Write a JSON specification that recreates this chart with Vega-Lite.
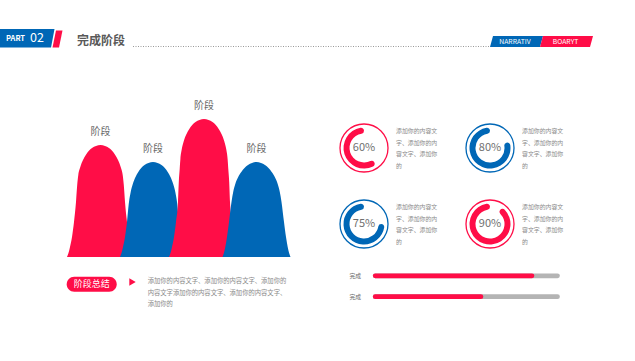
{
  "$schema": "https://vega.github.io/schema/vega-lite/v6.json",
  "width": 635,
  "height": 361,
  "padding": 0,
  "autosize": {"type": "fit", "contains": "padding"},
  "background": "#ffffff",
  "config": {"view": {"stroke": null}, "text": {"font": "Noto Sans CJK SC"}},
  "datasets": {
    "humps": [
      {"stage": "1", "pos": 67.0, "height": 0}, {"stage": "1", "pos": 68.5, "height": 4}, {"stage": "1", "pos": 70.0, "height": 10}, {"stage": "1", "pos": 72.0, "height": 20}, {"stage": "1", "pos": 74.0, "height": 35}, {"stage": "1", "pos": 76.0, "height": 55}, {"stage": "1", "pos": 77.2, "height": 72}, {"stage": "1", "pos": 78.3, "height": 82}, {"stage": "1", "pos": 80.3, "height": 90}, {"stage": "1", "pos": 83.0, "height": 97}, {"stage": "1", "pos": 85.8, "height": 102}, {"stage": "1", "pos": 88.7, "height": 106}, {"stage": "1", "pos": 92.0, "height": 109}, {"stage": "1", "pos": 96.0, "height": 111}, {"stage": "1", "pos": 100.5, "height": 112}, {"stage": "1", "pos": 105.0, "height": 111}, {"stage": "1", "pos": 109.0, "height": 109}, {"stage": "1", "pos": 112.3, "height": 106}, {"stage": "1", "pos": 115.2, "height": 102}, {"stage": "1", "pos": 118.0, "height": 97}, {"stage": "1", "pos": 120.7, "height": 90}, {"stage": "1", "pos": 122.7, "height": 82}, {"stage": "1", "pos": 123.8, "height": 72}, {"stage": "1", "pos": 125.0, "height": 55}, {"stage": "1", "pos": 127.0, "height": 35}, {"stage": "1", "pos": 129.0, "height": 20}, {"stage": "1", "pos": 131.0, "height": 10}, {"stage": "1", "pos": 132.5, "height": 4}, {"stage": "1", "pos": 134.0, "height": 0},
      {"stage": "2", "pos": 120.0, "height": 0}, {"stage": "2", "pos": 121.5, "height": 4}, {"stage": "2", "pos": 123.0, "height": 10}, {"stage": "2", "pos": 125.0, "height": 20}, {"stage": "2", "pos": 127.0, "height": 35}, {"stage": "2", "pos": 129.0, "height": 55}, {"stage": "2", "pos": 130.7, "height": 65}, {"stage": "2", "pos": 132.8, "height": 73}, {"stage": "2", "pos": 135.5, "height": 80}, {"stage": "2", "pos": 138.3, "height": 85}, {"stage": "2", "pos": 141.2, "height": 89}, {"stage": "2", "pos": 144.5, "height": 92}, {"stage": "2", "pos": 148.5, "height": 94}, {"stage": "2", "pos": 153.0, "height": 95}, {"stage": "2", "pos": 157.5, "height": 94}, {"stage": "2", "pos": 161.5, "height": 92}, {"stage": "2", "pos": 164.8, "height": 89}, {"stage": "2", "pos": 167.7, "height": 85}, {"stage": "2", "pos": 170.5, "height": 80}, {"stage": "2", "pos": 173.2, "height": 73}, {"stage": "2", "pos": 175.3, "height": 65}, {"stage": "2", "pos": 177.0, "height": 55}, {"stage": "2", "pos": 179.0, "height": 35}, {"stage": "2", "pos": 181.0, "height": 20}, {"stage": "2", "pos": 183.0, "height": 10}, {"stage": "2", "pos": 184.5, "height": 4}, {"stage": "2", "pos": 186.0, "height": 0},
      {"stage": "3", "pos": 169.0, "height": 0}, {"stage": "3", "pos": 170.5, "height": 4}, {"stage": "3", "pos": 172.0, "height": 10}, {"stage": "3", "pos": 174.0, "height": 20}, {"stage": "3", "pos": 176.0, "height": 35}, {"stage": "3", "pos": 178.0, "height": 55}, {"stage": "3", "pos": 178.8, "height": 75}, {"stage": "3", "pos": 179.7, "height": 88}, {"stage": "3", "pos": 180.4, "height": 98}, {"stage": "3", "pos": 181.8, "height": 108}, {"stage": "3", "pos": 183.8, "height": 116}, {"stage": "3", "pos": 186.5, "height": 123}, {"stage": "3", "pos": 189.3, "height": 128}, {"stage": "3", "pos": 192.2, "height": 132}, {"stage": "3", "pos": 195.5, "height": 135}, {"stage": "3", "pos": 199.5, "height": 137}, {"stage": "3", "pos": 204.0, "height": 138}, {"stage": "3", "pos": 208.5, "height": 137}, {"stage": "3", "pos": 212.5, "height": 135}, {"stage": "3", "pos": 215.8, "height": 132}, {"stage": "3", "pos": 218.7, "height": 128}, {"stage": "3", "pos": 221.5, "height": 123}, {"stage": "3", "pos": 224.2, "height": 116}, {"stage": "3", "pos": 226.2, "height": 108}, {"stage": "3", "pos": 227.6, "height": 98}, {"stage": "3", "pos": 228.3, "height": 88}, {"stage": "3", "pos": 229.2, "height": 75}, {"stage": "3", "pos": 230.0, "height": 55}, {"stage": "3", "pos": 232.0, "height": 35}, {"stage": "3", "pos": 234.0, "height": 20}, {"stage": "3", "pos": 236.0, "height": 10}, {"stage": "3", "pos": 237.5, "height": 4}, {"stage": "3", "pos": 239.0, "height": 0},
      {"stage": "4", "pos": 222.5, "height": 0}, {"stage": "4", "pos": 223.9, "height": 4}, {"stage": "4", "pos": 225.3, "height": 10}, {"stage": "4", "pos": 227.0, "height": 20}, {"stage": "4", "pos": 229.0, "height": 35}, {"stage": "4", "pos": 231.5, "height": 55}, {"stage": "4", "pos": 233.2, "height": 65}, {"stage": "4", "pos": 235.3, "height": 73}, {"stage": "4", "pos": 238.2, "height": 80}, {"stage": "4", "pos": 241.3, "height": 85}, {"stage": "4", "pos": 244.5, "height": 89}, {"stage": "4", "pos": 248.0, "height": 92}, {"stage": "4", "pos": 252.0, "height": 94}, {"stage": "4", "pos": 256.5, "height": 95}, {"stage": "4", "pos": 261.0, "height": 94}, {"stage": "4", "pos": 265.0, "height": 92}, {"stage": "4", "pos": 268.5, "height": 89}, {"stage": "4", "pos": 271.7, "height": 85}, {"stage": "4", "pos": 274.8, "height": 80}, {"stage": "4", "pos": 277.7, "height": 73}, {"stage": "4", "pos": 279.8, "height": 65}, {"stage": "4", "pos": 281.5, "height": 55}, {"stage": "4", "pos": 284.0, "height": 35}, {"stage": "4", "pos": 286.0, "height": 20}, {"stage": "4", "pos": 287.7, "height": 10}, {"stage": "4", "pos": 289.1, "height": 4}, {"stage": "4", "pos": 290.5, "height": 0}
    ],
    "stages": [
      {"stage": "1", "name": "阶段", "center": 100.5, "value": 112},
      {"stage": "2", "name": "阶段", "center": 153, "value": 95},
      {"stage": "3", "name": "阶段", "center": 204, "value": 138},
      {"stage": "4", "name": "阶段", "center": 256.5, "value": 95}
    ],
    "donuts": [
      {"col": 1, "row": 1, "start": 0, "pct": 60, "label": "60%", "desc": "添加你的内容文\n字、添加你的内\n容文字、添加你\n的"},
      {"col": 2, "row": 1, "start": 0, "pct": 80, "label": "80%", "desc": "添加你的内容文\n字、添加你的内\n容文字、添加你\n的"},
      {"col": 1, "row": 2, "start": 0, "pct": 75, "label": "75%", "desc": "添加你的内容文\n字、添加你的内\n容文字、添加你\n的"},
      {"col": 2, "row": 2, "start": 0, "pct": 90, "label": "90%", "desc": "添加你的内容文\n字、添加你的内\n容文字、添加你\n的"}
    ],
    "bars": [
      {"item": 1, "name": "完成", "start": 0, "full": 100, "pct": 86},
      {"item": 2, "name": "完成", "start": 0, "full": 100, "pct": 58}
    ]
  },
  "resolve": {"scale": {"x": "independent", "y": "independent", "color": "independent", "theta": "independent"}},
  "layer": [
    {
      "data": {"values": [
        {"tag": "PART", "y": 29, "left": 0, "right": 54.5},
        {"tag": "PART", "y": 47.5, "left": 0, "right": 51},
        {"tag": "slash", "y": 30.5, "left": 56, "right": 62.5},
        {"tag": "slash", "y": 47.5, "left": 52.5, "right": 59},
        {"tag": "NARRATIV", "y": 36, "left": 493, "right": 543},
        {"tag": "NARRATIV", "y": 47, "left": 490, "right": 540},
        {"tag": "BOARYT", "y": 36, "left": 543, "right": 593},
        {"tag": "BOARYT", "y": 47, "left": 540, "right": 590}
      ]},
      "mark": {"type": "area", "orient": "horizontal", "interpolate": "linear", "opacity": 1},
      "encoding": {
        "y": {"field": "y", "type": "quantitative", "scale": {"domain": [0, 361], "reverse": true, "nice": false, "zero": false}, "axis": null},
        "x": {"field": "left", "type": "quantitative", "stack": null, "scale": {"domain": [0, 635], "nice": false, "zero": false}, "axis": null},
        "x2": {"field": "right"},
        "color": {"field": "tag", "type": "nominal", "scale": {"domain": ["PART", "slash", "NARRATIV", "BOARYT"], "range": ["#0067B6", "#FF0D47", "#0067B6", "#FF0D47"]}, "legend": null}
      }
    },
    {
      "data": {"values": [{"from": 133, "to": 489, "y": 46.5}]},
      "mark": {"type": "rule", "color": "#9a9a9a", "strokeWidth": 1, "strokeDash": [1, 1.5]},
      "encoding": {
        "x": {"field": "from", "type": "quantitative", "scale": {"domain": [0, 635], "nice": false, "zero": false}, "axis": null},
        "x2": {"field": "to"},
        "y": {"field": "y", "type": "quantitative", "scale": {"domain": [0, 361], "reverse": true, "nice": false, "zero": false}, "axis": null}
      }
    },
    {
      "data": {"values": [{"x": 66.7, "x2": 116.7, "y": 276.7, "y2": 291.7}]},
      "mark": {"type": "rect", "color": "#FF0D47", "cornerRadius": 7.5},
      "encoding": {
        "x": {"field": "x", "type": "quantitative", "scale": {"domain": [0, 635], "nice": false, "zero": false}, "axis": null},
        "x2": {"field": "x2"},
        "y": {"field": "y", "type": "quantitative", "scale": {"domain": [0, 361], "reverse": true, "nice": false, "zero": false}, "axis": null},
        "y2": {"field": "y2"}
      }
    },
    {
      "data": {"values": [{"x": 132.5, "y": 282}]},
      "mark": {"type": "point", "shape": "triangle-right", "filled": true, "size": 55, "color": "#FF0D47", "opacity": 1},
      "encoding": {
        "x": {"field": "x", "type": "quantitative", "scale": {"domain": [0, 635], "nice": false, "zero": false}, "axis": null},
        "y": {"field": "y", "type": "quantitative", "scale": {"domain": [0, 361], "reverse": true, "nice": false, "zero": false}, "axis": null}
      }
    },
    {
      "data": {"values": [{"text": "PART", "x": 6, "y": 39.2}]},
      "mark": {"type": "text", "align": "left", "baseline": "middle", "fontSize": 7.5, "fontWeight": "bold", "color": "#ffffff"},
      "encoding": {
        "x": {"field": "x", "type": "quantitative", "scale": {"domain": [0, 635], "nice": false, "zero": false}, "axis": null},
        "y": {"field": "y", "type": "quantitative", "scale": {"domain": [0, 361], "reverse": true, "nice": false, "zero": false}, "axis": null},
        "text": {"field": "text"}
      }
    },
    {
      "data": {"values": [{"text": "02", "x": 30, "y": 38.3}]},
      "mark": {"type": "text", "align": "left", "baseline": "middle", "fontSize": 12.5, "color": "#ffffff"},
      "encoding": {
        "x": {"field": "x", "type": "quantitative", "scale": {"domain": [0, 635], "nice": false, "zero": false}, "axis": null},
        "y": {"field": "y", "type": "quantitative", "scale": {"domain": [0, 361], "reverse": true, "nice": false, "zero": false}, "axis": null},
        "text": {"field": "text"}
      }
    },
    {
      "data": {"values": [{"text": "NARRATIV", "x": 515, "y": 41.6}, {"text": "BOARYT", "x": 565.5, "y": 41.6}]},
      "mark": {"type": "text", "align": "center", "baseline": "middle", "fontSize": 6.8, "color": "#ffffff"},
      "encoding": {
        "x": {"field": "x", "type": "quantitative", "scale": {"domain": [0, 635], "nice": false, "zero": false}, "axis": null},
        "y": {"field": "y", "type": "quantitative", "scale": {"domain": [0, 361], "reverse": true, "nice": false, "zero": false}, "axis": null},
        "text": {"field": "text"}
      }
    },
    {
      "data": {"values": [{"text": "完成阶段", "x": 77, "y": 40.7}]},
      "mark": {"type": "text", "align": "left", "baseline": "middle", "fontSize": 12, "fontWeight": "bold", "color": "#595959"},
      "encoding": {
        "x": {"field": "x", "type": "quantitative", "scale": {"domain": [0, 635], "nice": false, "zero": false}, "axis": null},
        "y": {"field": "y", "type": "quantitative", "scale": {"domain": [0, 361], "reverse": true, "nice": false, "zero": false}, "axis": null},
        "text": {"field": "text"}
      }
    },
    {
      "data": {"values": [{"text": "阶段总结", "x": 91.7, "y": 284.2}]},
      "mark": {"type": "text", "align": "center", "baseline": "middle", "fontSize": 9, "color": "#ffffff"},
      "encoding": {
        "x": {"field": "x", "type": "quantitative", "scale": {"domain": [0, 635], "nice": false, "zero": false}, "axis": null},
        "y": {"field": "y", "type": "quantitative", "scale": {"domain": [0, 361], "reverse": true, "nice": false, "zero": false}, "axis": null},
        "text": {"field": "text"}
      }
    },
    {
      "data": {"values": [
        {"text": "添加你的内容文字、添加你的内容文字、添加你的", "x": 147.7, "y": 281},
        {"text": "内容文字添加你的内容文字、添加你的内容文字、", "x": 147.7, "y": 292.6},
        {"text": "添加你的", "x": 147.7, "y": 304.2}
      ]},
      "mark": {"type": "text", "align": "left", "baseline": "middle", "fontSize": 6.3, "color": "#8a8a8a"},
      "encoding": {
        "x": {"field": "x", "type": "quantitative", "scale": {"domain": [0, 635], "nice": false, "zero": false}, "axis": null},
        "y": {"field": "y", "type": "quantitative", "scale": {"domain": [0, 361], "reverse": true, "nice": false, "zero": false}, "axis": null},
        "text": {"field": "text"}
      }
    },
    {
      "data": {"name": "humps"},
      "mark": {"type": "area", "interpolate": "monotone", "opacity": 1},
      "encoding": {
        "x": {"field": "pos", "type": "quantitative", "scale": {"domain": [0, 635], "nice": false, "zero": false}, "axis": null},
        "y": {"field": "height", "type": "quantitative", "stack": null, "scale": {"domain": [-104, 257], "nice": false, "zero": false}, "axis": null},
        "color": {"field": "stage", "type": "nominal", "scale": {"domain": ["1", "2", "3", "4"], "range": ["#FF0D47", "#0067B6", "#FF0D47", "#0067B6"]}, "legend": null}
      }
    },
    {
      "data": {"name": "stages"},
      "mark": {"type": "text", "baseline": "middle", "dy": -13, "fontSize": 10, "color": "#6b6b6b"},
      "encoding": {
        "x": {"field": "center", "type": "quantitative", "scale": {"domain": [0, 635], "nice": false, "zero": false}, "axis": null},
        "y": {"field": "value", "type": "quantitative", "scale": {"domain": [-104, 257], "nice": false, "zero": false}, "axis": null},
        "text": {"field": "name"}
      }
    },
    {
      "data": {"name": "donuts"},
      "mark": {"type": "point", "shape": "circle", "filled": false, "size": 2304, "strokeWidth": 1.3, "opacity": 1},
      "encoding": {
        "x": {"field": "col", "type": "quantitative", "scale": {"domain": [-1.8889, 3.1508], "nice": false, "zero": false}, "axis": null},
        "y": {"field": "row", "type": "quantitative", "scale": {"domain": [-0.9474, 3.8026], "reverse": true, "nice": false, "zero": false}, "axis": null},
        "color": {"field": "label", "type": "nominal", "scale": {"domain": ["60%", "80%", "75%", "90%"], "range": ["#FF0D47", "#0067B6", "#0067B6", "#FF0D47"]}, "legend": null}
      }
    },
    {
      "data": {"name": "donuts"},
      "mark": {"type": "arc", "outerRadius": 20.5, "innerRadius": 14.5, "cornerRadius": 3},
      "encoding": {
        "x": {"field": "col", "type": "quantitative", "scale": {"domain": [-1.8889, 3.1508], "nice": false, "zero": false}, "axis": null},
        "y": {"field": "row", "type": "quantitative", "scale": {"domain": [-0.9474, 3.8026], "reverse": true, "nice": false, "zero": false}, "axis": null},
        "theta": {"field": "pct", "type": "quantitative", "stack": null, "scale": {"domain": [0, 100], "range": [6.2832, 0], "nice": false, "zero": false}},
        "theta2": {"field": "start"},
        "color": {"field": "label", "type": "nominal", "scale": {"domain": ["60%", "80%", "75%", "90%"], "range": ["#FF0D47", "#0067B6", "#0067B6", "#FF0D47"]}, "legend": null}
      }
    },
    {
      "data": {"name": "donuts"},
      "mark": {"type": "text", "align": "center", "baseline": "middle", "fontSize": 11, "color": "#707070"},
      "encoding": {
        "x": {"field": "col", "type": "quantitative", "scale": {"domain": [-1.8889, 3.1508], "nice": false, "zero": false}, "axis": null},
        "y": {"field": "row", "type": "quantitative", "scale": {"domain": [-0.9474, 3.8026], "reverse": true, "nice": false, "zero": false}, "axis": null},
        "text": {"field": "label"}
      }
    },
    {
      "data": {"name": "donuts"},
      "mark": {"type": "text", "align": "left", "baseline": "top", "dx": 32, "dy": -20, "fontSize": 5.9, "lineHeight": 11.7, "lineBreak": "\n", "color": "#8a8a8a"},
      "encoding": {
        "x": {"field": "col", "type": "quantitative", "scale": {"domain": [-1.8889, 3.1508], "nice": false, "zero": false}, "axis": null},
        "y": {"field": "row", "type": "quantitative", "scale": {"domain": [-0.9474, 3.8026], "reverse": true, "nice": false, "zero": false}, "axis": null},
        "text": {"field": "desc"}
      }
    },
    {
      "data": {"name": "bars"},
      "mark": {"type": "rule", "color": "#b4b4b4", "strokeWidth": 4.7, "strokeCap": "round"},
      "encoding": {
        "x": {"field": "start", "type": "quantitative", "scale": {"domain": [-205.8, 142.5], "nice": false, "zero": false}, "axis": null},
        "x2": {"field": "full"},
        "y": {"field": "item", "type": "quantitative", "scale": {"domain": [-12.196, 5.077], "reverse": true, "nice": false, "zero": false}, "axis": null}
      }
    },
    {
      "data": {"name": "bars"},
      "mark": {"type": "rule", "color": "#FF0D47", "strokeWidth": 4.7, "strokeCap": "round"},
      "encoding": {
        "x": {"field": "start", "type": "quantitative", "scale": {"domain": [-205.8, 142.5], "nice": false, "zero": false}, "axis": null},
        "x2": {"field": "pct"},
        "y": {"field": "item", "type": "quantitative", "scale": {"domain": [-12.196, 5.077], "reverse": true, "nice": false, "zero": false}, "axis": null}
      }
    },
    {
      "data": {"name": "bars"},
      "mark": {"type": "text", "align": "center", "baseline": "middle", "dx": -20, "fontSize": 5.8, "color": "#6b6b6b"},
      "encoding": {
        "x": {"field": "start", "type": "quantitative", "scale": {"domain": [-205.8, 142.5], "nice": false, "zero": false}, "axis": null},
        "y": {"field": "item", "type": "quantitative", "scale": {"domain": [-12.196, 5.077], "reverse": true, "nice": false, "zero": false}, "axis": null},
        "text": {"field": "name"}
      }
    }
  ]
}
